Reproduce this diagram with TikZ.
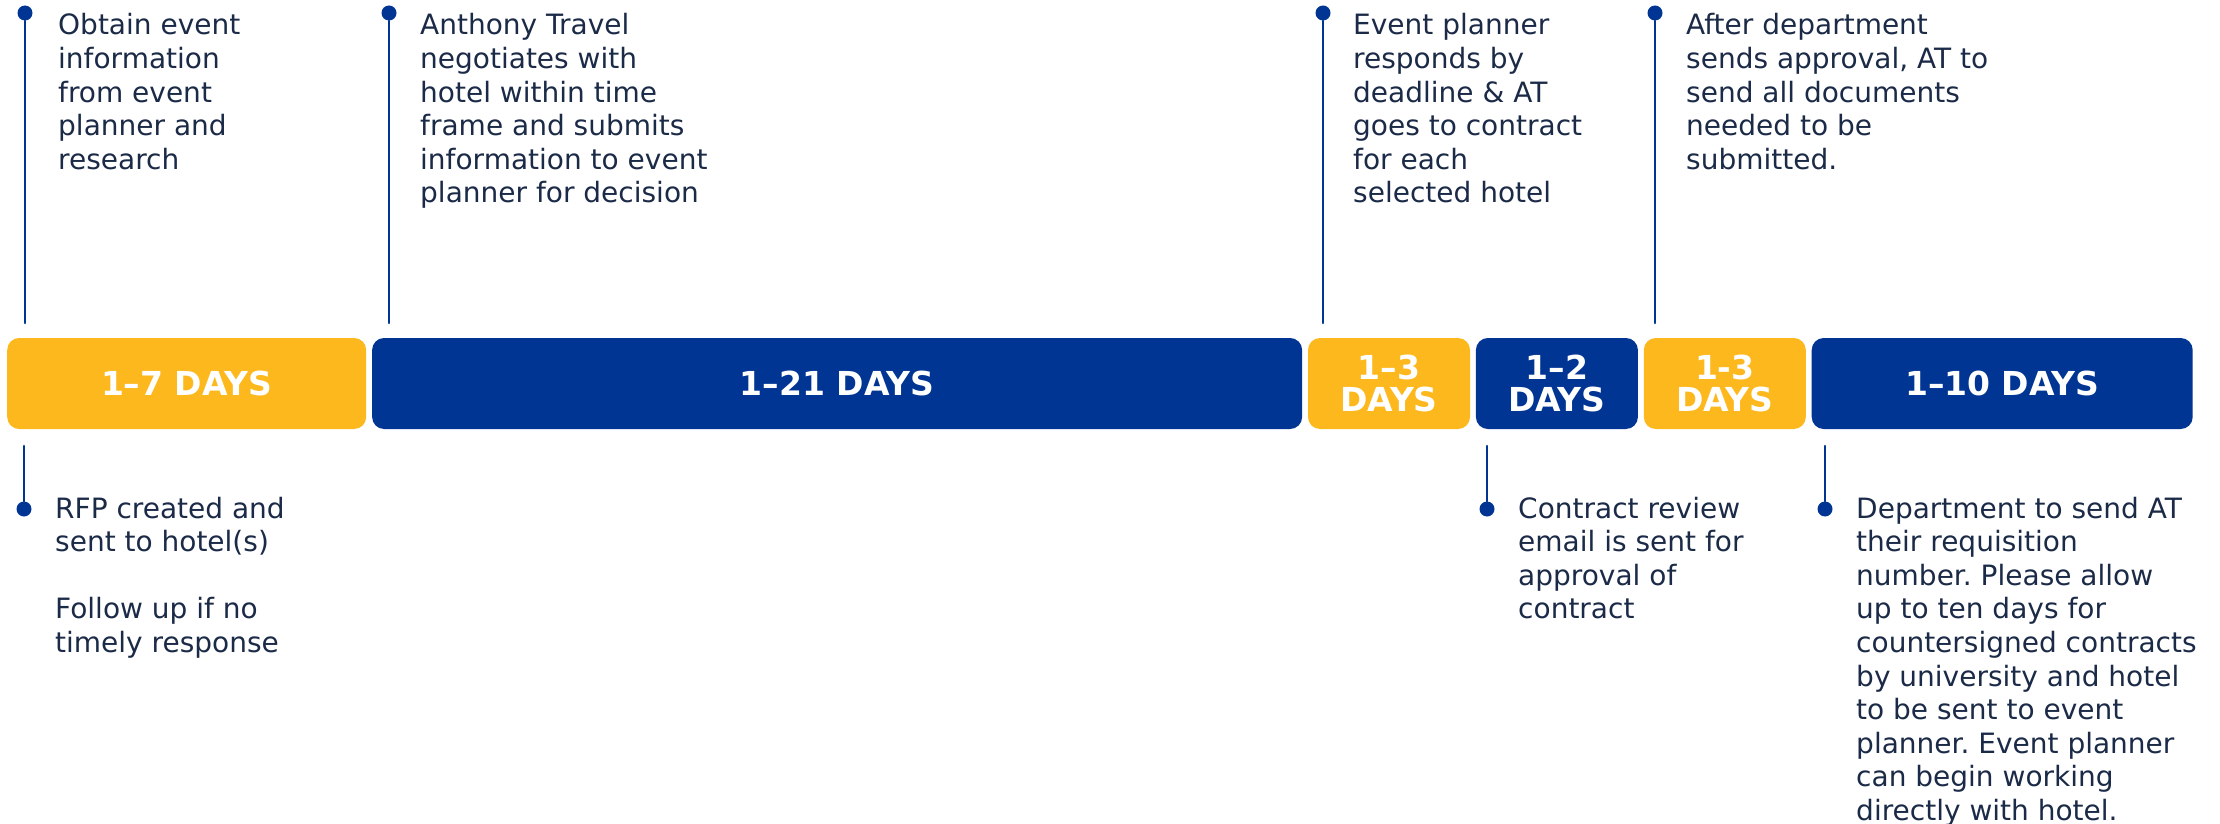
\documentclass[tikz,border=0pt]{standalone}
\usepackage{fontspec}
\setmainfont{DejaVu Sans}
\usetikzlibrary{positioning}
\frenchspacing

\definecolor{atyellow}{HTML}{FDB81E}
\definecolor{atblue}{HTML}{003594}
\definecolor{atnavy}{HTML}{1B2A47}

% lines of a note, hung from the baseline of the first one
\newcommand{\notelines}[1]{\begin{tabular}[t]{@{}l@{}}#1\end{tabular}}

\begin{document}
\begin{tikzpicture}[
		x=1pt, y=-1pt,
		line cap=round,
		bar/.style={rounded corners=12pt, minimum height=91pt, inner sep=0pt,
			text=white, align=center, font=\fontsize{33}{32}\selectfont\bfseries},
		yellowbar/.style={bar, fill=atyellow},
		bluebar/.style={bar, fill=atblue},
		pin/.style={circle, fill=atblue, inner sep=0pt, minimum size=15pt},
		stem/.style={atblue, line width=2.6pt},
		note/.style={anchor=base west, inner sep=0pt, text=atnavy,
			font=\fontsize{28}{33.6}\selectfont}
	]
	
	% Parameters
	\def\gap{5.5pt}
	\def\barY{383.5}
	\def\topY{13}
	\def\stemTop{323}
	\def\stemBot{446}
	\def\botY{509}
	
	\useasboundingbox (0,0) rectangle (2220,824);
	
	% Duration bars
	\node[yellowbar, minimum width=359pt, anchor=west] (days7) at (7,\barY) {1–7 DAYS};
	\node[bluebar, minimum width=930pt, right=\gap of days7] (days21) {1–21 DAYS};
	\node[yellowbar, minimum width=162pt, right=\gap of days21] (days3a) {1–3\\DAYS};
	\node[bluebar, minimum width=162pt, right=\gap of days3a] (days2) {1–2\\DAYS};
	\node[yellowbar, minimum width=162pt, right=\gap of days2] (days3b) {1-3\\DAYS};
	\node[bluebar, minimum width=381pt, right=\gap of days3b] (days10) {1–10 DAYS};
	
	% Upper pins
	\node[pin] (upA) at (25,\topY) {};
	\node[pin] (upB) at (389,\topY) {};
	\node[pin] (upC) at (1323,\topY) {};
	\node[pin] (upD) at (1655,\topY) {};
	\foreach \p/\x in {upA/25, upB/389, upC/1323, upD/1655} {
		\coordinate (\p end) at (\x,\stemTop);
		\draw[stem] (\p) -- (\p end);
	}
	
	% Lower pins
	\node[pin] (lowA) at (24,\botY) {};
	\node[pin] (lowB) at (1487,\botY) {};
	\node[pin] (lowC) at (1825,\botY) {};
	\foreach \p/\x in {lowA/24, lowB/1487, lowC/1825} {
		\coordinate (\p start) at (\x,\stemBot);
		\draw[stem] (\p start) -- (\p);
	}
	
	% Upper notes
	\node[note] (noteA) at (58,35) {\notelines{Obtain event\\information\\from event\\planner and\\research}};
	\node[note] (noteB) at (420,35) {\notelines{Anthony Travel\\negotiates with\\hotel within time\\frame and submits\\information to event\\planner for decision}};
	\node[note] (noteC) at (1353,35) {\notelines{Event planner\\responds by\\deadline \& AT\\goes to contract\\for each\\selected hotel}};
	\node[note] (noteD) at (1686,35) {\notelines{After department\\sends approval, AT to\\send all documents\\needed to be\\submitted.}};
	
	% Lower notes
	\node[note] (noteE) at (55,518) {\notelines{RFP created and\\sent to hotel(s)\\[33.6pt]Follow up if no\\timely response}};
	\node[note] (noteF) at (1518,518) {\notelines{Contract review\\email is sent for\\approval of\\contract}};
	\node[note] (noteG) at (1856,518) {\notelines{Department to send AT\\their requisition\\number. Please allow\\up to ten days for\\countersigned contracts\\by university and hotel\\to be sent to event\\planner. Event planner\\can begin working\\directly with hotel.}};
	
\end{tikzpicture}
\end{document}
